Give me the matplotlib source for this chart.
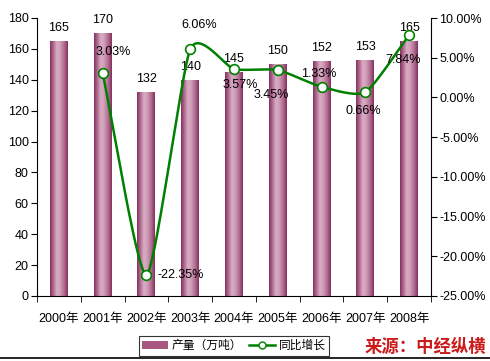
import numpy as np
import matplotlib
matplotlib.use("Agg")
import matplotlib.pyplot as plt
from matplotlib.colors import LinearSegmentedColormap
from matplotlib.lines import Line2D
from matplotlib.patches import Patch

plt.rcParams['font.family'] = ['Liberation Sans', 'Noto Sans CJK SC', 'DejaVu Sans']

years = ['2000年', '2001年', '2002年', '2003年', '2004年', '2005年', '2006年', '2007年', '2008年']
output = [165, 170, 132, 140, 145, 150, 152, 153, 165]
growth = [None, 3.03, -22.35, 6.06, 3.57, 3.45, 1.33, 0.66, 7.84]
bar_label_name = '产量（万吨）'
line_label_name = '同比增长'
source_text = '来源：中经纵横'

FS = 9

fig = plt.figure(figsize=(4.9, 3.61), dpi=100)
ax = fig.add_axes([37/490, 1-296/361, 394/490, 278/361])
ax2 = ax.twinx()

x = np.arange(len(years))
bars = ax.bar(x, output, width=0.41, facecolor='none', edgecolor='none', zorder=2)
cmap = LinearSegmentedColormap.from_list('cyl', [(0, '#86305e'), (0.38, '#d9abc3'), (0.55, '#d2a0ba'), (0.8, '#b06b90'), (1, '#86305e')])
grad = np.linspace(0, 1, 64).reshape(1, -1)
for b in bars:
    x0, y0 = b.get_x(), b.get_y()
    w, h = b.get_width(), b.get_height()
    im = ax.imshow(grad, cmap=cmap, aspect='auto', extent=[x0, x0 + w, y0, y0 + h], zorder=2)
    im.set_clip_path(b)

ax.set_xlim(-0.5, len(years) - 0.5)
ax.set_ylim(0, 180)
ax.set_yticks(range(0, 181, 20))
ax.set_xticks(x)
ax.set_xticklabels(years)
ax.set_xticks(np.arange(-0.5, len(years), 1), minor=True)
ax.tick_params(axis='x', which='major', length=0, pad=12, labelsize=FS)
ax.tick_params(axis='x', which='minor', length=4, direction='out')
ax.tick_params(axis='y', length=4, direction='out', labelsize=FS, pad=2)
for s in ['top', 'right']:
    ax.spines[s].set_visible(False)

# smooth line through the data points (cardinal spline, reduced tension)
gx = np.array([i for i, g in enumerate(growth) if g is not None], dtype=float)
gy = np.array([g for g in growth if g is not None], dtype=float)
P = np.column_stack([gx, gy])
Pext = np.vstack([2*P[0]-P[1], P, 2*P[-1]-P[-2]])
k = 0.6
curve = []
for i in range(1, len(Pext) - 2):
    p0, p1, p2, p3 = Pext[i-1], Pext[i], Pext[i+1], Pext[i+2]
    m1 = k * (p2 - p0) / 2
    m2 = k * (p3 - p1) / 2
    t = np.linspace(0, 1, 40)[:, None]
    h00 = 2*t**3 - 3*t**2 + 1
    h10 = t**3 - 2*t**2 + t
    h01 = -2*t**3 + 3*t**2
    h11 = t**3 - t**2
    curve.append(h00*p1 + h10*m1 + h01*p2 + h11*m2)
curve = np.vstack(curve)
ax2.plot(curve[:, 0], curve[:, 1], color='#008000', lw=1.8, zorder=3)
ax2.plot(gx, gy, 'o', ms=7, mfc='white', mec='#008000', mew=1.2, zorder=4)
ax2.set_ylim(-25, 10)
ax2.set_yticks(range(-25, 11, 5))
ax2.set_yticklabels([f'{v:.2f}%' for v in range(-25, 11, 5)])
ax2.tick_params(axis='y', length=4, direction='out', labelsize=FS, pad=2)
for s in ['top', 'left', 'bottom']:
    ax2.spines[s].set_visible(False)

# labels
for i, v in enumerate(output):
    ax.annotate(str(v), (i, v), xytext=(0, 13), textcoords='offset pixels', ha='center', va='center', fontsize=FS)

offsets = {1: (11, 21), 2: (34, 0), 3: (9, 24), 4: (6, -16), 5: (-7, -25), 6: (-3, 13), 7: (-2, -19), 8: (-6, -25)}
for i, g in enumerate(growth):
    if g is None:
        continue
    dx, dy = offsets[i]
    ax2.annotate(f'{g:.2f}%', (i, g), xytext=(dx, dy), textcoords='offset pixels', ha='center', va='center', fontsize=FS, zorder=5)

handles = [Patch(facecolor='#a8577f', edgecolor='none'),
           Line2D([], [], color='#008000', lw=1.8, marker='o', ms=5, mfc='white', mec='#008000')]
leg = fig.legend(handles, [bar_label_name, line_label_name], loc='center', bbox_to_anchor=(234/490, 1-346/361),
                 ncol=2, frameon=True, fancybox=False, edgecolor='black', fontsize=8.5,
                 handlelength=2.2, handletextpad=0.3, columnspacing=0.6, borderpad=0.3)
leg.get_frame().set_linewidth(0.8)

fig.text(486/490, 1-347/361, source_text, ha='right', va='center', color='#cc1a1a', fontsize=12.5, fontweight='bold', style='italic',
         family=['Noto Sans CJK SC'])
fig.add_artist(Line2D([0, 1], [1-358/361, 1-358/361], color='black', lw=1.2, transform=fig.transFigure))

fig.savefig('out.png', dpi=100)
